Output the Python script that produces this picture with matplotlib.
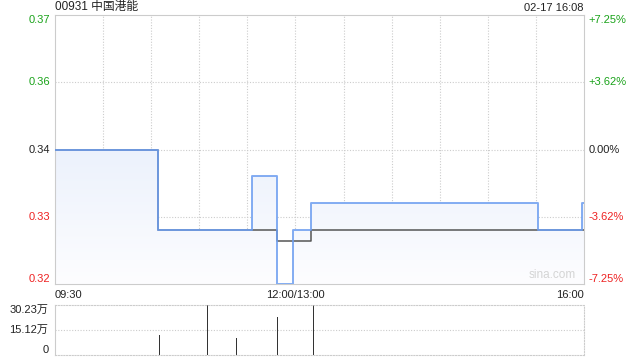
import numpy as np
import matplotlib.pyplot as plt
from matplotlib.colors import LinearSegmentedColormap

plt.rcParams['font.family'] = ['Liberation Sans', 'Noto Sans CJK SC']

# minutes after 09:30 (12:00/13:00 = 150, 16:00 = 330)
prev_close = 0.345
t_price = [0, 64, 123, 138.5, 148.5, 160, 301, 329, 330]
price = [0.345, 0.33, 0.34, 0.32, 0.33, 0.335, 0.33, 0.335, 0.335]
t_avg = [0, 64, 138.5, 160, 330]
avg_price = [0.345, 0.33, 0.328, 0.33, 0.33]
vol_t = [65, 95, 113, 139, 161]
vol = [12.1, 30.23, 10.4, 23.0, 30.1]  # 万
x_labels = ['09:30', '12:00/13:00', '16:00']
x_label_pos = [0, 150, 330]

fig = plt.figure(figsize=(6.4, 3.6), dpi=100)
ax = fig.add_axes([55/640, 1-284/360, 529/640, 269/360])
vax = fig.add_axes([55/640, 1-355/360, 529/640, 50/360])

ymin, ymax = 0.32, 0.37
pct = [0.0725, 0.03625, 0.0, -0.03625, -0.0725]

# gradient area under price
poly = ax.fill_between(t_price, price, ymin, step='post', facecolor='none', edgecolor='none')
cmap = LinearSegmentedColormap.from_list('g', ['#fdfdff', '#dbe6f9'])
im = ax.imshow(np.linspace(0, 1, 256).reshape(-1, 1), cmap=cmap, origin='lower',
               extent=[0, 330, ymin, ymax], aspect='auto', zorder=1)
im.set_clip_path(poly.get_paths()[0], ax.transData)

ax.step(t_avg, avg_price, where='post', color='#555555', lw=1.1, zorder=3)
ax.step(t_price, price, where='post', color='#6d9ef0', lw=1.4, alpha=0.85, zorder=4)

ax.set_xlim(0, 330)
ax.set_ylim(ymin, ymax)
for x in range(30, 330, 30):
    ax.axvline(x, color='#cccccc', lw=0.8, ls=(0, (1, 1.5)), zorder=0)
for p in pct[1:-1]:
    ax.axhline(prev_close * (1 + p), color='#cccccc', lw=0.8, ls=(0, (1, 1.5)), zorder=0)
ax.set_xticks([])
ax.set_yticks([])
for s in ax.spines.values():
    s.set_color('#cccccc')

# price / percent labels
for p in pct:
    y = prev_close * (1 + p)
    col = '#1aa31a' if p > 0 else ('#ee2222' if p < 0 else '#222222')
    va = 'top' if p == pct[0] else ('bottom' if p == pct[-1] else 'center')
    ax.text(-3, y, '%.2f' % (y - 1e-9 if p == 0 else y), color=col, fontsize=8,
            ha='right', va=va)
    ax.text(333, y, '%+.2f%%' % (p * 100) if p != 0 else '0.00%', color=col, fontsize=8,
            ha='left', va=va)

for lab, pos, ha in zip(x_labels, x_label_pos, ['left', 'center', 'right']):
    ax.text(pos, ymin - 0.0012, lab, fontsize=8, color='#222222', ha=ha, va='top')

ax.text(0, 1.006, '00931 中国港能', transform=ax.transAxes, fontsize=8.5,
        color='#222222', ha='left', va='bottom')
ax.text(1, 1.006, '02-17 16:08', transform=ax.transAxes, fontsize=8,
        color='#222222', ha='right', va='bottom')
ax.text(0.985, 0.01, 'sina.com', transform=ax.transAxes, fontsize=8.5,
        color='#d4d4d4', ha='right', va='bottom')

# volume
vax.bar(vol_t, vol, width=0.6, color='#333333')
vax.set_xlim(0, 330)
vax.set_ylim(0, max(vol))
vax.set_xticks([])
vax.set_yticks([])
vax.axhline(max(vol) / 2, color='#cccccc', lw=0.8, ls=(0, (1, 1.5)), zorder=0)
for k in ['top', 'right', 'bottom']:
    vax.spines[k].set_color('#cccccc')
    vax.spines[k].set_linestyle((0, (1, 1.5)))
vax.spines['left'].set_color('#cccccc')
vtick = [max(vol), max(vol) / 2, 0]
vlab = ['%.2f万' % vtick[0], '%.2f万' % vtick[1], '0']
for v, lab, va in zip(vtick, vlab, ['top', 'center', 'bottom']):
    vax.text(-4, v, lab, fontsize=8, color='#222222', ha='right', va=va)

fig.savefig('out.png', dpi=100)
